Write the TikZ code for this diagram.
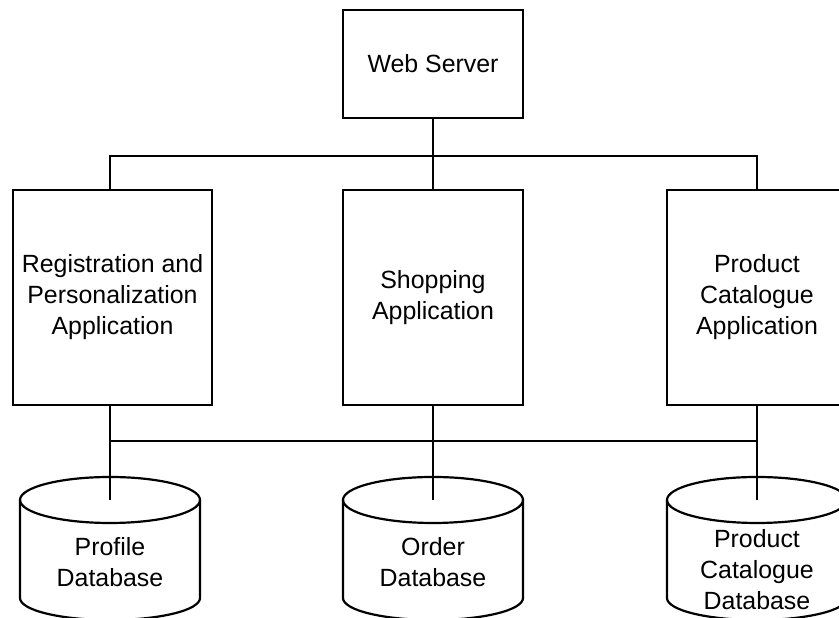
\documentclass[tikz,border=0pt]{standalone}
\usepackage{fontspec}
\setmainfont{Liberation Sans}
\begin{document}
\begin{tikzpicture}[x=1pt,y=1pt,
  box/.style={draw, line width=1.3pt, inner sep=0pt, align=center,
    font=\fontsize{24.9}{31}\selectfont},
  dbtext/.style={inner sep=0pt, align=center,
    font=\fontsize{24.9}{31}\selectfont},
  wire/.style={line width=1.3pt},
  cyl/.style={line width=2.2pt}]
\useasboundingbox (0,0) rectangle (839,618);
\clip (0,0) rectangle (839,618);

% servers and applications
\node[box, minimum width=180pt, minimum height=108pt] (ws) at (433,554) {Web Server};
\node[box, minimum width=199pt, minimum height=215pt] (reg) at (112.5,320.5)
  {Registration and\\Personalization\\Application};
\node[box, minimum width=180pt, minimum height=215pt] (shop) at (433,320.5)
  {Shopping\\Application};
\node[box, minimum width=180pt, minimum height=215pt] (prod) at (757,320.5)
  {Product\\Catalogue\\Application};

% database cylinders: top ellipse, sides and front half of the base
\foreach \cx in {110,433,757}{
  \draw[cyl] (\cx-90,118) -- (\cx-90,20)
    arc[start angle=180, end angle=360, x radius=90, y radius=22]
    -- (\cx+90,118);
  \draw[cyl] (\cx,118) ellipse [x radius=90, y radius=23];
}
\coordinate (pdbtop) at (110,118);
\coordinate (odbtop) at (433,118);
\coordinate (cdbtop) at (757,118);
\node[dbtext] (pdb) at (110,56) {Profile\\Database};
\node[dbtext] (odb) at (433,56) {Order\\Database};
\node[dbtext] (cdb) at (757,48) {Product\\Catalogue\\Database};

% upper bus
\coordinate (busL) at (110,462);
\coordinate (busR) at (757,462);
\draw[wire] (ws.south) -- (shop.north);
\draw[wire] (busL |- reg.north) -- (busL) -- (busR) -- (prod.north);

% lower bus
\coordinate (lbusL) at (110,177);
\coordinate (lbusR) at (757,177);
\draw[wire] (lbusL) -- (lbusR);
\draw[wire] (pdbtop |- reg.south) -- (pdbtop);
\draw[wire] (shop.south) -- (odbtop);
\draw[wire] (prod.south) -- (cdbtop);
\end{tikzpicture}
\end{document}
